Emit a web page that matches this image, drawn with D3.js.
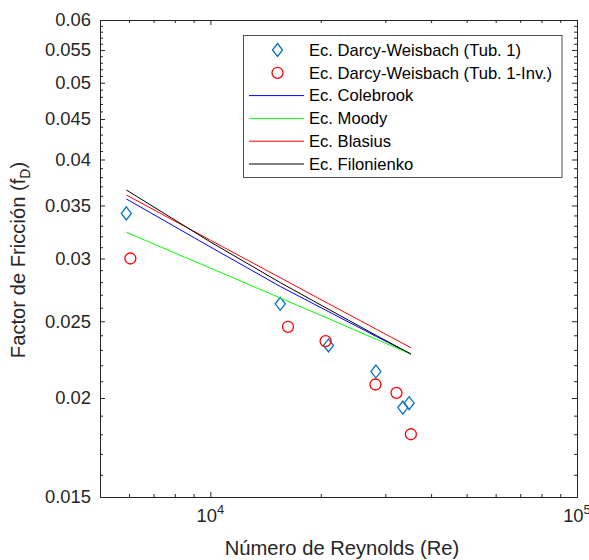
<!DOCTYPE html>
<html>
<head>
<meta charset="utf-8">
<script src="https://cdn.jsdelivr.net/npm/d3@7"></script>
<style>
  body { margin: 0; background: #fff; }
  svg { font-family: "Liberation Sans", Arial, sans-serif; }
  .axis path { stroke: #262626; }
  .axis line { stroke: #262626; }
  .axis text { fill: #262626; }
</style>
</head>
<body>
<div id="chart"></div>
<script>
// data
var reTub1 = [5900, 15510, 21000, 28280, 33500, 34840];
var fTub1 = [0.0342, 0.0263, 0.0233, 0.0216, 0.01945, 0.0197];

var reTub1Inv = [6050, 16280, 20620, 28200, 32180, 35230];
var fTub1Inv = [0.0300, 0.0246, 0.0236, 0.0208, 0.0203, 0.0180];

var reLine = [5900, 10000, 15510, 20960, 28340, 35230];
var fColebrook = [0.03567, 0.03102, 0.02766, 0.02572, 0.02392, 0.02273];
var fMoody = [0.03237, 0.02918, 0.02675, 0.02520, 0.02372, 0.02273];
var fBlasius = [0.03608, 0.03164, 0.02837, 0.02632, 0.02443, 0.02315];
var fFilonenko = [0.03661, 0.03148, 0.02797, 0.02590, 0.02399, 0.02273];

var xMajor = [1e4, 1e5];
var xMinor = [6000, 7000, 8000, 9000, 20000, 30000, 40000, 50000, 60000, 70000, 80000, 90000];
var yMajor = [0.015, 0.02, 0.025, 0.03, 0.035, 0.04, 0.045, 0.05, 0.055, 0.06];

var svgWidth = 589, svgHeight = 560;
var margin = { top: 20, right: 12, bottom: 63, left: 100 };
var width = svgWidth - margin.left - margin.right;
var height = svgHeight - margin.top - margin.bottom;

var svg = d3.select("#chart").append("svg")
  .attr("width", svgWidth)
  .attr("height", svgHeight);

var chartGroup = svg.append("g")
  .attr("transform", `translate(${margin.left}, ${margin.top})`);

var x = d3.scaleLog().domain([5000, 1e5]).range([0, width]);
var y = d3.scaleLog().domain([0.015, 0.06]).range([height, 0]);

var yMinor = d3.range(16, 60).filter(function(i) { return i % 5 !== 0; }).map(function(i) { return i / 1000; });

// axes: ticks point inward like matlab
chartGroup.append("g").attr("class", "axis")
  .attr("transform", `translate(0, ${height})`)
  .call(d3.axisBottom(x).tickValues(xMajor).tickSize(-5).tickFormat(""));
chartGroup.append("g").attr("class", "axis")
  .attr("transform", `translate(0, ${height})`)
  .call(d3.axisBottom(x).tickValues(xMinor).tickSize(-3).tickFormat("").tickSizeOuter(0));
chartGroup.append("g").attr("class", "axis")
  .call(d3.axisTop(x).tickValues(xMajor).tickSize(-5).tickFormat(""));
chartGroup.append("g").attr("class", "axis")
  .call(d3.axisTop(x).tickValues(xMinor).tickSize(-3).tickFormat("").tickSizeOuter(0));

var yAxis = chartGroup.append("g").attr("class", "axis")
  .call(d3.axisLeft(y).tickValues(yMajor).tickSize(-5).tickPadding(9)
    .tickFormat(function(d) { return String(+d.toFixed(3)); }));
yAxis.selectAll("text").style("font-size", "18.4px");
chartGroup.append("g").attr("class", "axis")
  .call(d3.axisLeft(y).tickValues(yMinor).tickSize(-3).tickFormat("").tickSizeOuter(0));
chartGroup.append("g").attr("class", "axis")
  .attr("transform", `translate(${width}, 0)`)
  .call(d3.axisRight(y).tickValues(yMajor).tickSize(-5).tickFormat(""));
chartGroup.append("g").attr("class", "axis")
  .attr("transform", `translate(${width}, 0)`)
  .call(d3.axisRight(y).tickValues(yMinor).tickSize(-3).tickFormat("").tickSizeOuter(0));

// x tick labels as powers of ten
xMajor.forEach(function(v) {
  var t = chartGroup.append("text")
    .attr("x", x(v))
    .attr("y", height + 25)
    .attr("text-anchor", "middle")
    .attr("fill", "#262626")
    .style("font-size", "18.4px");
  t.append("tspan").text("10");
  t.append("tspan").attr("dy", -8).style("font-size", "13px").text(String(Math.round(Math.log10(v))));
});

// markers
var diamond = function(cx, cy) {
  return `M${cx},${cy - 6.5}L${cx + 5},${cy}L${cx},${cy + 6.5}L${cx - 5},${cy}Z`;
};

chartGroup.selectAll(".tub1")
  .data(reTub1)
  .enter()
  .append("path")
  .attr("class", "tub1")
  .attr("d", function(d, i) { return diamond(x(d), y(fTub1[i])); })
  .attr("fill", "none")
  .attr("stroke", "#0072BD")
  .attr("stroke-width", 1.3);

chartGroup.selectAll(".tub1inv")
  .data(reTub1Inv)
  .enter()
  .append("circle")
  .attr("class", "tub1inv")
  .attr("cx", function(d) { return x(d); })
  .attr("cy", function(d, i) { return y(fTub1Inv[i]); })
  .attr("r", 5.5)
  .attr("fill", "none")
  .attr("stroke", "#FF0000")
  .attr("stroke-width", 1.3);

// curves
var curves = [
  { name: "Ec. Colebrook", values: fColebrook, color: "#0000FF" },
  { name: "Ec. Moody", values: fMoody, color: "#00FF00" },
  { name: "Ec. Blasius", values: fBlasius, color: "#FF0000" },
  { name: "Ec. Filonienko", values: fFilonenko, color: "#000000" }
];

var line = d3.line()
  .x(function(d) { return x(d[0]); })
  .y(function(d) { return y(d[1]); });

curves.forEach(function(c) {
  chartGroup.append("path")
    .datum(reLine.map(function(r, i) { return [r, c.values[i]]; }))
    .attr("d", line)
    .attr("fill", "none")
    .attr("stroke", c.color)
    .attr("stroke-width", 1);
});

// axis labels
svg.append("text")
  .attr("x", 342)
  .attr("y", 555)
  .attr("text-anchor", "middle")
  .attr("fill", "#262626")
  .style("font-size", "20.2px")
  .text("Número de Reynolds (Re)");

var yLabel = svg.append("text")
  .attr("transform", "translate(25, 260) rotate(-90)")
  .attr("text-anchor", "middle")
  .attr("fill", "#262626")
  .style("font-size", "20.2px");
yLabel.append("tspan").text("Factor de Fricción (f");
yLabel.append("tspan").attr("dy", 5).style("font-size", "14px").text("D");
yLabel.append("tspan").attr("dy", -5).text(")");

// legend
var legend = svg.append("g");
legend.append("rect")
  .attr("x", 243.5)
  .attr("y", 35.5)
  .attr("width", 318.5)
  .attr("height", 142)
  .attr("fill", "#fff")
  .attr("stroke", "#262626")
  .attr("stroke-width", 0.8);

var legendItems = [
  { name: "Ec. Darcy-Weisbach (Tub. 1)", type: "diamond", color: "#0072BD" },
  { name: "Ec. Darcy-Weisbach (Tub. 1-Inv.)", type: "circle", color: "#FF0000" }
].concat(curves.map(function(c) { return { name: c.name, type: "line", color: c.color }; }));

legendItems.forEach(function(item, i) {
  var cy = 50 + i * 22.8;
  if (item.type === "diamond") {
    legend.append("path")
      .attr("d", diamond(277.5, cy))
      .attr("fill", "none")
      .attr("stroke", item.color)
      .attr("stroke-width", 1.3);
  } else if (item.type === "circle") {
    legend.append("circle")
      .attr("cx", 277.5)
      .attr("cy", cy)
      .attr("r", 5.5)
      .attr("fill", "none")
      .attr("stroke", item.color)
      .attr("stroke-width", 1.3);
  } else {
    legend.append("line")
      .attr("x1", 249)
      .attr("x2", 304)
      .attr("y1", cy)
      .attr("y2", cy)
      .attr("stroke", item.color)
      .attr("stroke-width", 1);
  }
  legend.append("text")
    .attr("x", 309)
    .attr("y", cy)
    .attr("dy", "0.35em")
    .attr("fill", "#000")
    .style("font-size", "16.6px")
    .text(item.name);
});
</script>
</body>
</html>
